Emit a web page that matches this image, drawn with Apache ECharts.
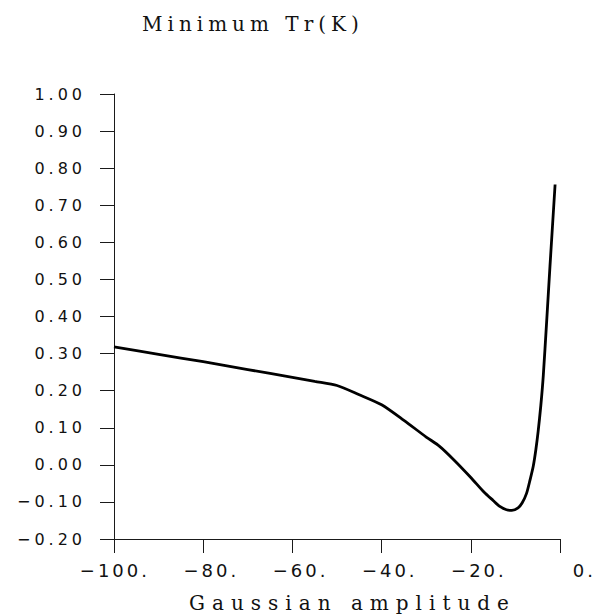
<!DOCTYPE html>
<html>
<head>
<meta charset="utf-8">
<script src="https://cdn.jsdelivr.net/npm/echarts@6/dist/echarts.min.js"></script>
<style>
  html, body { margin: 0; padding: 0; background: #fff; }
  #chart { width: 596px; height: 614px; }
</style>
</head>
<body>
<div id="chart"></div>
<script>
// ---- data ----
const titleText = 'Minimum Tr(K)';
const xAxisName = 'Gaussian amplitude';
const amplitude = [-100, -90, -80, -70, -60, -55, -50, -45, -40, -35, -30, -27, -24, -20, -17, -15, -13.5, -12, -10.8, -9.4, -8.5, -7.5, -6.7, -6, -5.4, -4.9, -4.3, -3.75, -3.0, -2.25, -1.1];
const minTr     = [0.318, 0.298, 0.278, 0.257, 0.236, 0.225, 0.214, 0.189, 0.162, 0.120, 0.075, 0.050, 0.016, -0.034, -0.074, -0.096, -0.112, -0.121, -0.123, -0.116, -0.103, -0.077, -0.040, -0.004, 0.042, 0.090, 0.160, 0.240, 0.385, 0.535, 0.756];
const xTickLabels = ['\u2212100.', '\u221280.', '\u221260.', '\u221240.', '\u221220.', '0.'];
const yTickLabels = ['\u22120.20', '\u22120.10', '0.00', '0.10', '0.20', '0.30', '0.40', '0.50', '0.60', '0.70', '0.80', '0.90', '1.00'];
const xMin = -100, xMax = 0, xStep = 20;
const yMin = -0.2, yMax = 1.0, yStep = 0.1;

const seriesData = amplitude.map((x, i) => [x, minTr[i]]);

const chart = echarts.init(document.getElementById('chart'), null, { renderer: 'svg' });
const axisColor = '#1a1a1a';
chart.setOption({
  animation: false,
  backgroundColor: '#ffffff',
  title: {
    text: titleText,
    left: 137,
    top: 9,
    textStyle: { fontFamily: 'DejaVu Serif', fontSize: 20, fontWeight: 'normal', color: '#111' }
  },
  grid: { left: 114, top: 94, width: 446, height: 445, outerBoundsMode: 'none', containLabel: false },
  xAxis: {
    type: 'value',
    min: xMin, max: xMax, interval: xStep,
    name: xAxisName,
    nameLocation: 'middle',
    nameGap: 54,
    nameTextStyle: { fontFamily: 'DejaVu Serif', fontSize: 20, color: '#111', padding: [0, 0, 0, 31] },
    axisLine: { onZero: false, lineStyle: { color: axisColor, width: 1 } },
    axisTick: { length: 14, lineStyle: { color: axisColor, width: 1 } },
    splitLine: { show: false },
    axisLabel: {
      showMinLabel: true, showMaxLabel: true,
      margin: 22,
      align: 'right',
      padding: [0, -36, 0, 0],
      fontFamily: 'DejaVu Sans', fontSize: 18, color: '#111',
      formatter: v => xTickLabels[Math.round((v - xMin) / xStep)]
    }
  },
  yAxis: {
    type: 'value',
    min: yMin, max: yMax, interval: yStep,
    axisLine: { onZero: false, lineStyle: { color: axisColor, width: 1 } },
    axisTick: { length: 14, lineStyle: { color: axisColor, width: 1 } },
    splitLine: { show: false },
    axisLabel: {
      showMinLabel: true, showMaxLabel: true,
      margin: 28,
      fontFamily: 'DejaVu Sans', fontSize: 16, color: '#111',
      formatter: v => yTickLabels[Math.round((v - yMin) / yStep)]
    }
  },
  series: [{
    type: 'line',
    data: seriesData,
    showSymbol: false,
    smooth: 0.25,
    lineStyle: { color: '#000', width: 2.8 }
  }]
});

function applySpacing() {
  document.querySelectorAll('#chart text').forEach(t => {
    const s = t.textContent;
    let ls = null;
    if (s === titleText) ls = 5;
    else if (s === xAxisName) ls = 7;
    else if (yTickLabels.indexOf(s) >= 0) ls = 4;
    else if (xTickLabels.indexOf(s) >= 0) ls = 3;
    if (ls !== null) t.setAttribute('letter-spacing', ls);
  });
}
applySpacing();
chart.on('finished', applySpacing);
setTimeout(applySpacing, 50);
</script>
</body>
</html>
